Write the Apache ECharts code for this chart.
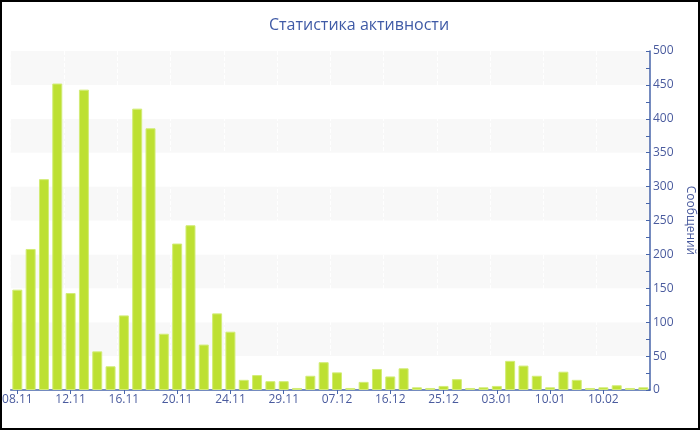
<!DOCTYPE html>
<html>
<head>
<meta charset="utf-8">
<script src="https://cdn.jsdelivr.net/npm/echarts@6/dist/echarts.min.js"></script>
<style>
html,body{margin:0;padding:0;background:#fff;}
#wrap{position:relative;width:700px;height:430px;}
#chart{width:700px;height:430px;}
#frame{position:absolute;left:0;top:0;width:700px;height:430px;box-sizing:border-box;border:2px solid #000;pointer-events:none;}
</style>
</head>
<body>
<div id="wrap"><div id="chart"></div><div id="frame"></div></div>
<script>
const categories = [
  '08.11','09.11','10.11','11.11','12.11','13.11','14.11','15.11','16.11','17.11',
  '18.11','19.11','20.11','21.11','22.11','23.11','24.11','25.11','26.11','27.11',
  '29.11','30.11','02.12','04.12','07.12','09.12','11.12','13.12','16.12','18.12',
  '20.12','22.12','25.12','27.12','29.12','31.12','03.01','04.01','05.01','07.01',
  '10.01','14.01','20.01','28.01','10.02','15.02','20.02','25.02'
];
const messages = [
  148, 208, 311, 452, 143, 443, 57, 35, 110, 415,
  386, 83, 216, 243, 67, 113, 86, 15, 22, 13,
  13, 3, 21, 41, 26, 3, 12, 31, 20, 32,
  4, 3, 6, 16, 3, 4, 6, 43, 36, 21,
  4, 27, 15, 3, 4, 7, 3, 4
];
const titleText = 'Статистика активности';
const yName = 'Сообщений';

const txt = '#4a5b9e';
const axisCol = '#4765aa';
const chart = echarts.init(document.getElementById('chart'));
chart.setOption({
  animation: false,
  backgroundColor: '#fff',
  title: {
    text: titleText,
    left: 264,
    top: 12,
    textStyle: {color: '#3f5aa6', fontFamily: 'Open Sans', fontSize: 16, fontWeight: 'normal'}
  },
  grid: {left: 10.67, right: 50, top: 51, bottom: 40, containLabel: false, outerBoundsMode: 'none'},
  xAxis: {
    type: 'category',
    data: categories,
    boundaryGap: true,
    axisLine: {lineStyle: {color: axisCol, width: 1.5}},
    axisTick: {show: true, alignWithLabel: true, interval: 3, length: 4, inside: false, lineStyle: {color: axisCol}},
    axisLabel: {interval: 3, color: txt, fontFamily: 'Open Sans', fontSize: 12, margin: 4},
    splitLine: {show: true, interval: 3, lineStyle: {color: '#ffffff', type: 'dashed', width: 1}}
  },
  yAxis: {
    type: 'value',
    position: 'right',
    min: 0, max: 500, interval: 50,
    name: yName,
    nameLocation: 'middle',
    nameRotate: -90,
    nameGap: 32,
    nameTextStyle: {color: txt, fontFamily: 'Open Sans', fontSize: 12},
    axisLine: {show: true, lineStyle: {color: axisCol, width: 1.5}},
    axisTick: {show: true, inside: true, length: 4, lineStyle: {color: axisCol}},
    minorTick: {show: true, splitNumber: 2, length: 4, lineStyle: {color: axisCol}},
    axisLabel: {color: txt, fontFamily: 'Open Sans', fontSize: 12, margin: 3},
    splitLine: {show: false},
    splitArea: {show: true, areaStyle: {color: ['#ffffff', '#f8f8f8']}}
  },
  series: [{
    type: 'bar',
    data: messages,
    barCategoryGap: '25%',
    itemStyle: {color: '#bde032', borderColor: '#d2ec76', borderWidth: 1}
  }]
});
</script>
</body>
</html>
